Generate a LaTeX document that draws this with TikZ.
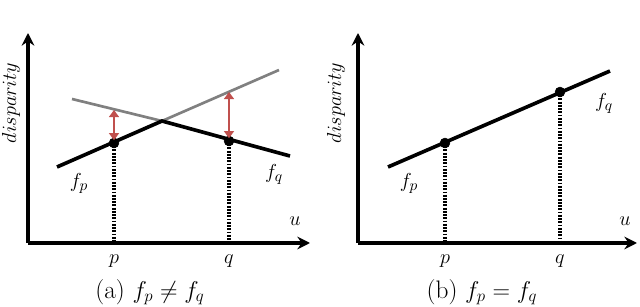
\documentclass[tikz,border=0pt]{standalone}
\usetikzlibrary{arrows.meta}
\definecolor{gapred}{RGB}{192,80,77}
\begin{document}
\begin{tikzpicture}[x=0.025cm,y=-0.025cm,
  font=\fontsize{15}{17}\selectfont,
  axis/.style={line width=2.3pt,-{Stealth[length=9pt,width=9pt,inset=3pt]}},
  fline/.style={line width=2.6pt},
  ghost/.style={line width=1.9pt,gray},
  drop/.style={line width=2.6pt,dash pattern=on 1.3pt off 1pt},
  gap/.style={line width=2.1pt,gapred,{Triangle[length=5pt,width=7pt]}-{Triangle[length=5pt,width=7pt]}}]
  \useasboundingbox (0,0) rectangle (640,307);
  % (a) f_p != f_q
  \coordinate (O1) at (28,243);
  \coordinate (Y1) at (28,33);
  \coordinate (X1) at (310,243);
  \coordinate (A0) at (57,167);
  \coordinate (C1) at (162,121);
  \coordinate (A1) at (279,70);
  \coordinate (B0) at (72,99);
  \coordinate (B1) at (290,156);
  \coordinate (P1) at (114,143);
  \coordinate (Q1) at (229,141);
  \coordinate (PG) at (114,110);
  \coordinate (QG) at (229,92);
  \coordinate (PX1) at (114,243);
  \coordinate (QX1) at (229,243);
  \draw[drop] (P1) -- (PX1);
  \draw[drop] (Q1) -- (QX1);
  \draw[ghost] (B0) -- (C1);
  \draw[ghost] (C1) -- (A1);
  \draw[fline] (A0) -- (C1) -- (B1);
  \draw[axis] (O1) -- (Y1);
  \draw[axis] (O1) -- (X1);
  \filldraw (P1) circle (3.5pt);
  \filldraw (Q1) circle (3.5pt);
  \draw[gap,shorten <=2pt] (P1) -- (PG);
  \draw[gap,shorten <=2pt] (Q1) -- (QG);
  \node[rotate=90] (dispA) at (11,103) {$disparity$};
  \node (uA) at (295,221) {$u$};
  \node (pA) at (114,261) {$p$};
  \node (qA) at (229,261) {$q$};
  \node (fpA) at (79,183) {$f_p$};
  \node (fqA) at (274,174) {$f_q$};
  \node[font=\fontsize{18}{20}\selectfont] (capA) at (150,292) {(a) $f_p \neq f_q$};
  % (b) f_p = f_q
  \coordinate (O2) at (358,243);
  \coordinate (Y2) at (358,33);
  \coordinate (X2) at (637,243);
  \coordinate (L0) at (388,167);
  \coordinate (L1) at (610,71);
  \coordinate (P2) at (445,143);
  \coordinate (Q2) at (560,92);
  \coordinate (PX2) at (445,243);
  \coordinate (QX2) at (560,243);
  \draw[drop] (P2) -- (PX2);
  \draw[drop] (Q2) -- (QX2);
  \draw[fline] (L0) -- (L1);
  \draw[axis] (O2) -- (Y2);
  \draw[axis] (O2) -- (X2);
  \filldraw (P2) circle (3.5pt);
  \filldraw (Q2) circle (3.5pt);
  \node[rotate=90] (dispB) at (336,103) {$disparity$};
  \node (uB) at (625,221) {$u$};
  \node (pB) at (445,261) {$p$};
  \node (qB) at (560,261) {$q$};
  \node (fpB) at (409,183) {$f_p$};
  \node (fqB) at (604,103) {$f_q$};
  \node[font=\fontsize{18}{20}\selectfont] (capB) at (482,292) {(b) $f_p = f_q$};
\end{tikzpicture}
\end{document}
